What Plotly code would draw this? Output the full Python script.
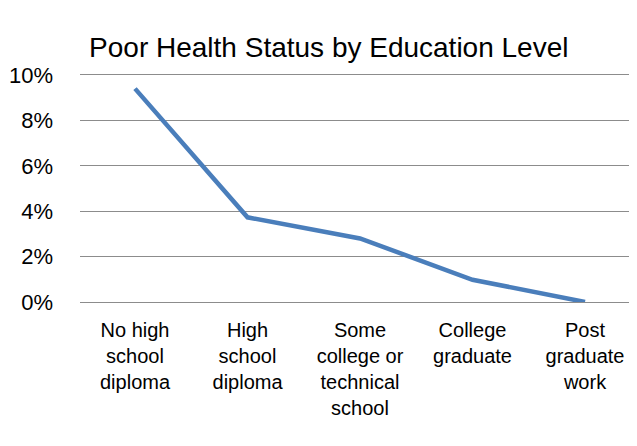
import plotly.graph_objects as go

# education levels and share reporting poor health
categories = [
    "No high<br>school<br>diploma",
    "High<br>school<br>diploma",
    "Some<br>college or<br>technical<br>school",
    "College<br>graduate",
    "Post<br>graduate<br>work",
]
poor_health = [0.094, 0.0373, 0.028, 0.0098, 0.0]

y_ticks = [0, 0.02, 0.04, 0.06, 0.08, 0.10]

fig = go.Figure()
fig.add_trace(go.Scatter(
    x=categories,
    y=poor_health,
    mode="lines",
    line=dict(color="#4A7EBB", width=4.5),
    showlegend=False,
))

# page body adds an 8px margin, so the figure is 8px smaller each way
fig.update_layout(
    width=629,
    height=438,
    margin=dict(l=72, r=0, t=67, b=144),
    paper_bgcolor="white",
    plot_bgcolor="white",
    font=dict(family="Liberation Sans, Arial, sans-serif", size=20, color="black"),
    title=dict(
        text="Poor Health Status by Education Level",
        x=0.510,
        xanchor="center",
        y=0.911,
        yanchor="middle",
        font=dict(size=28, color="black"),
    ),
)

# the plot area runs a little past the right edge, like the original
fig.update_xaxes(
    range=[-0.489, 4.462],
    automargin=False,
    showgrid=False,
    showline=True,
    mirror=True,
    linecolor="#8C8C8C",
    linewidth=1.3,
    ticks="",
    tickangle=0,
    ticklabelstandoff=10,
)
fig.update_yaxes(
    range=[0, 0.10],
    automargin=False,
    tickvals=y_ticks,
    tickformat=".0%",
    tickfont=dict(size=22),
    showgrid=True,
    gridcolor="#8C8C8C",
    gridwidth=1.3,
    zeroline=False,
    showline=False,
    ticks="",
    ticklabelstandoff=26,
)

fig.write_html("out.html")
